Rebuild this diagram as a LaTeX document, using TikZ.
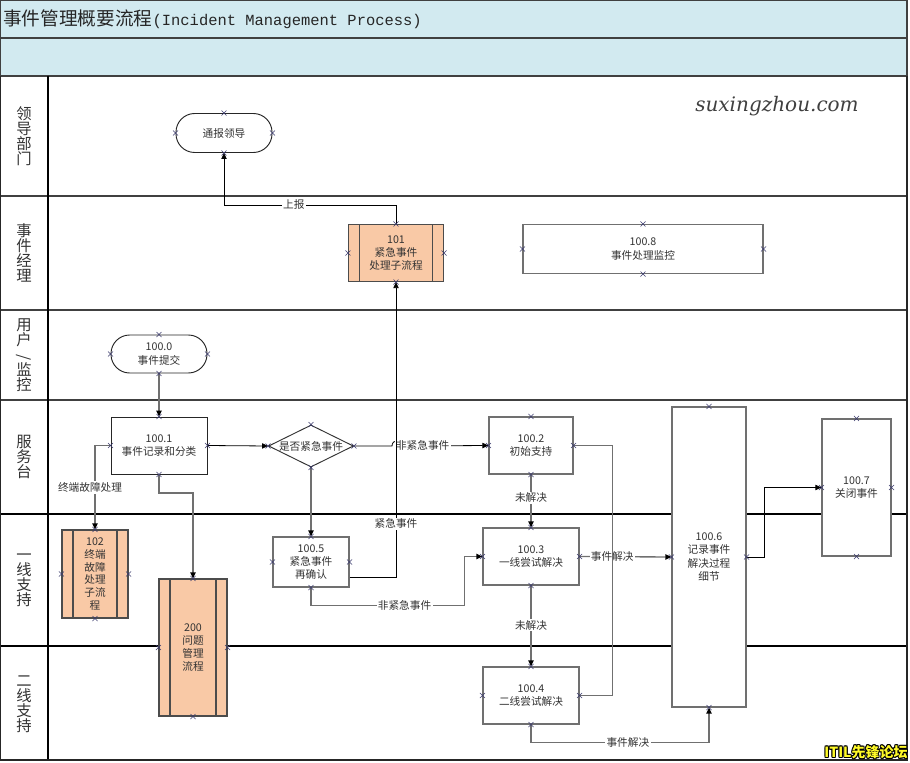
\documentclass[tikz,border=0pt]{standalone}
\usepackage{fontspec}
\setmainfont{Noto Sans CJK SC}
\newfontfamily\monofont{Liberation Mono}
\newfontfamily\handfont{DejaVu Serif}
\usetikzlibrary{shapes.geometric,arrows.meta}

\definecolor{bandblue}{RGB}{210,234,240}
\definecolor{suborange}{RGB}{249,201,166}
\definecolor{edgegray}{RGB}{112,112,112}
\definecolor{cptblue}{RGB}{60,60,110}
\definecolor{brandyellow}{RGB}{255,250,40}

\tikzset{
  lane/.style={font=\fontsize{11.5}{11.3}\selectfont, align=center, text=black!80},
  boxsize/.style 2 args={minimum width=#1*0.75pt, minimum height=#2*0.75pt},
  proc/.style={draw=edgegray, line width=0.9pt, fill=white, inner sep=0pt, align=center,
    font=\fontsize{8}{10}\selectfont, text=black!80},
  term/.style={proc, draw=black!85, line width=0.7pt, rounded corners=14pt},
  subproc/.style={proc, fill=suborange, draw=black!70, font=\fontsize{8}{9.6}\selectfont,
    path picture={\draw[black!70, line width=0.9pt]
      ([xshift=8.25pt]path picture bounding box.north west) -- ([xshift=8.25pt]path picture bounding box.south west)
      ([xshift=-8.25pt]path picture bounding box.north east) -- ([xshift=-8.25pt]path picture bounding box.south east);}},
  decision/.style={diamond, draw=black!80, line width=0.7pt, fill=white, inner sep=0pt},
  flow/.style={draw=edgegray, line width=1pt, -{Triangle[length=4.5pt,width=4pt,color=black]}},
  flowthin/.style={draw=black, line width=0.6pt},
  elabel/.style={fill=white, inner sep=1pt, font=\fontsize{8}{10}\selectfont, text=black!80},
  lanethick/.style={draw=black!75, line width=1.5pt},
  lanethin/.style={draw=black, line width=0.9pt},
  cpt/.style={draw=cptblue, line width=0.4pt},
  brand/.style={font=\bfseries\fontsize{10.5}{10.5}\selectfont, inner sep=0pt}
}

\begin{document}
\begin{tikzpicture}[x=0.75pt,y=-0.75pt]
  \useasboundingbox (0,0) rectangle (910,763);
  \fill[white] (0,0) rectangle (910,763);

  \filldraw[fill=bandblue, draw=black!75, line width=1pt] (0.5,0.5) rectangle (907,38);
  \filldraw[fill=bandblue, draw=black!75, line width=1pt] (0.5,38) rectangle (907,76);
  \node[anchor=west, inner sep=0pt, text=black!85] (title) at (3,19)
    {{\fontsize{14}{14}\selectfont 事件管理概要流程}{\monofont\fontsize{11.6}{14}\selectfont (Incident Management Process)}};

  \draw[lanethick] (0,196) -- (907,196);
  \draw[lanethick] (0,310) -- (907,310);
  \draw[lanethick] (0,400) -- (907,400);
  \draw[lanethin] (0,514) -- (907,514);
  \draw[lanethin] (0,646) -- (907,646);
  \draw[lanethin] (48,76) -- (48,760);
  \draw[draw=black!85, line width=1pt] (0.5,76) -- (0.5,760) -- (907,760) -- (907,76);

  \node[lane] (lane1) at (24,136) {领\\导\\部\\门};
  \node[lane] (lane2) at (24,253) {事\\件\\经\\理};
  \node[lane] (lane3) at (24,355) {用\\户\\\rotatebox{90}{/}\\监\\控};
  \node[lane] (lane4) at (24,457) {服\\务\\台};
  \node[lane] (lane5) at (24,580) {一\\线\\支\\持};
  \node[lane] (lane6) at (24,704) {二\\线\\支\\持};

  \node[font=\handfont\itshape\fontsize{15}{15}\selectfont, text=black!75] (site) at (777,106) {suxingzhou.com};

  \node[term, boxsize={96}{39}] (lead) at (224,133) {通报领导};
  \node[subproc, boxsize={95}{57}] (emg) at (396,253) {101\\紧急事件\\处理子流程};
  \node[proc, boxsize={240}{49}] (monitor) at (643,249) {100.8\\事件处理监控};
  \node[term, boxsize={96}{38}] (submit) at (159,354) {100.0\\事件提交};
  \node[proc, draw=black!85, line width=0.7pt, boxsize={96}{57}] (record) at (159,445.5) {100.1\\事件记录和分类};
  \node[decision, boxsize={85}{42}, label={[font=\fontsize{8}{10}\selectfont, text=black!80]center:是否紧急事件}] (urgent) at (311,446) {};
  \node[proc, boxsize={84}{57}] (init) at (531,445.5) {100.2\\初始支持};
  \node[proc, boxsize={96}{57}] (first) at (531,556.5) {100.3\\一线尝试解决};
  \node[proc, boxsize={96}{57}] (second) at (531,695.5) {100.4\\二线尝试解决};
  \node[proc, boxsize={76}{50}] (confirm) at (311,562) {100.5\\紧急事件\\再确认};
  \node[proc, boxsize={74}{300}] (log) at (709,557) {100.6\\记录事件\\解决过程\\细节};
  \node[proc, boxsize={69}{137}] (close) at (856.5,487.5) {100.7\\关闭事件};
  \node[subproc, boxsize={66}{88}] (device) at (95,574) {102\\终端\\故障\\处理\\子流\\程};
  \node[subproc, boxsize={68}{137}] (problem) at (193,647.5) {200\\问题\\管理\\流程};

  \begin{scope}[flow]
    \draw (submit.south) -- (record.north);
    \draw[flowthin] (record.east) -- (urgent.west);
    \draw (record.west) -| node[elabel, pos=0.75, xshift=-3.75pt] {终端故障处理} (device.north);
    \draw (record.south) -- ++(0,18.5) -| (problem.north);
    \draw (urgent.south) -- (confirm.north);
    \draw[flowthin] (urgent.east) -- (392,446) .. controls (392,439) and (402,439) .. (402,446)
      -- node[elabel, pos=0.24] {非紧急事件} (init.west);
    \draw[flowthin] ([yshift=-11.25pt]confirm.east) -| node[elabel, pos=0.59] {紧急事件} (emg.south);
    \draw (confirm.south) -- ++(0,18) -| node[elabel, pos=0.305] {非紧急事件} ([xshift=-13.5pt]first.west) -- (first.west);
    \draw (init.south) -- node[elabel, pos=0.44] {未解决} (first.north);
    \draw (first.east) -- node[elabel, pos=0.355] {事件解决} (log.west);
    \draw (first.south) -- node[elabel, pos=0.49] {未解决} (second.north);
    \draw[-] (init.east) -- ++(39,0) |- (second.east);
    \draw (second.south) -- ++(0,18) -| node[elabel, pos=0.272] {事件解决} (log.south);
    \draw[flowthin] (log.east) -- ++(18,0) |- (close.west);
    \draw[flowthin] (emg.north) -- ++(0,-19) -| node[elabel, pos=0.297] {上报} (lead.south);
  \end{scope}

  \foreach \n in {lead,emg,monitor,submit,record,urgent,init,first,second,confirm,log,close,device,problem}
    \foreach \a in {north,south,east,west}
      \draw[cpt] ([shift={(-2.5,-2.5)}]\n.\a) -- ([shift={(2.5,2.5)}]\n.\a)
                 ([shift={(-2.5,2.5)}]\n.\a) -- ([shift={(2.5,-2.5)}]\n.\a);

  \foreach \dx/\dy [count=\i] in {-0.9/0,0.9/0,0/-0.9,0/0.9,-0.7/-0.7,0.7/0.7,-0.7/0.7,0.7/-0.7}
    \node[brand, text=black] (brandshadow\i) at (866+\dx,752+\dy) {ITIL先锋论坛};
  \node[brand, text=brandyellow] (brand) at (866,752) {ITIL先锋论坛};
\end{tikzpicture}
\end{document}
